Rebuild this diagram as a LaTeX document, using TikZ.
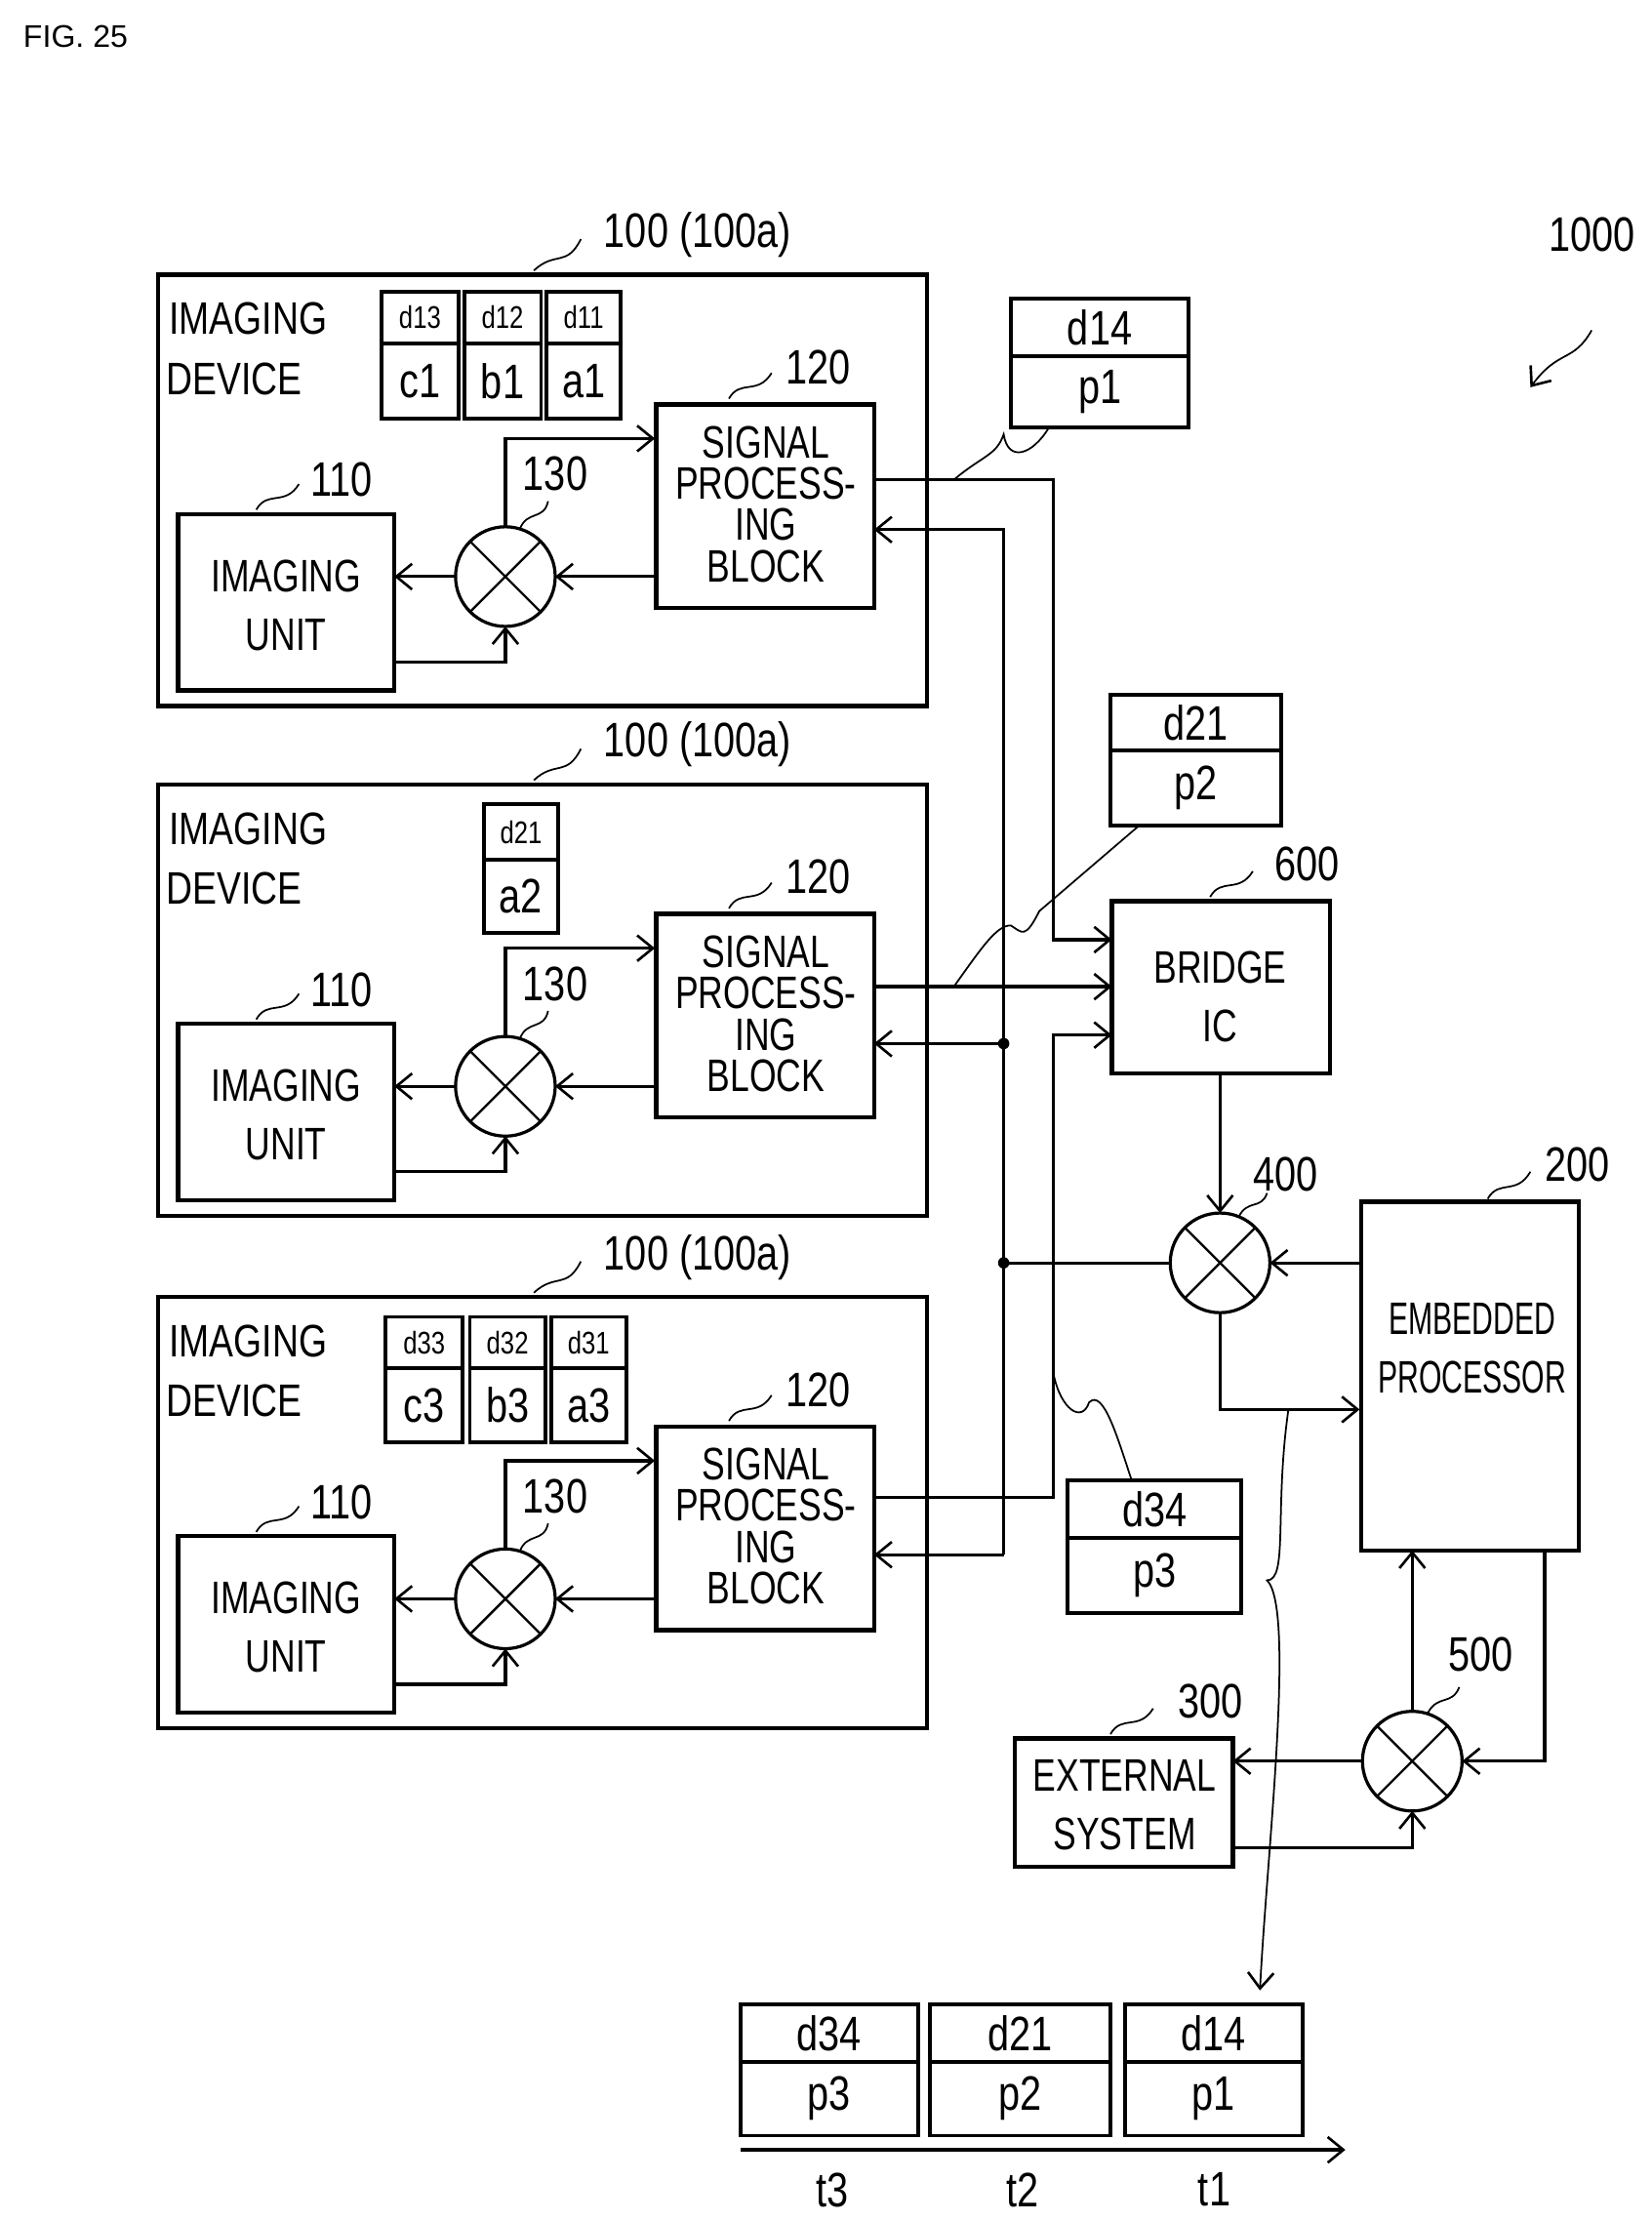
\documentclass[tikz,border=0pt]{standalone}
\usepackage{fontspec}
\setmainfont{Liberation Sans}
\usetikzlibrary{arrows.meta}
\begin{document}
\begin{tikzpicture}[x=1pt,y=-1pt,
  line width=2.2pt,
  ar/.style={-{Straight Barb[length=11pt,width=18pt,line width=1.8pt]}},
  thin/.style={line width=1.2pt},
  big/.style={font=\fontsize{32}{29}\selectfont,xscale=.76,transform shape,align=center,inner sep=0},
  mid/.style={font=\fontsize{32}{30}\selectfont,xscale=.8,transform shape,inner sep=0},
  sm/.style={font=\fontsize{22}{22}\selectfont,xscale=.8,transform shape,inner sep=0},
  num/.style={font=\fontsize{34}{34}\selectfont,xscale=.8,transform shape,inner sep=0},
  box/.style={draw,line width=3pt,inner sep=0,outer sep=0}]
\fill[white] (0,0) rectangle (1160,1560);
\useasboundingbox (0,0) rectangle (1160,1560);
\node[font=\fontsize{22}{22}\selectfont,anchor=west] (fig) at (12,26) {FIG. 25};
\node[num] (n1000) at (1118,165) {1000};
\coordinate (c1000) at (1118,232);
\coordinate (e1000) at (1075,272);
\draw[thin,ar] (c1000) .. controls (1105,255) and (1095,245) .. (e1000);

\foreach \i/\dy in {1/0,2/358,3/718}{
\begin{scope}[yshift=-\dy pt]
 \node[box,minimum width=540pt,minimum height=303pt,anchor=north west] (dev\i) at (111,193) {};
 \node[num] (l100\i) at (490,165) {100 (100a)};
 \draw[thin] (375,190) .. controls (390,176) and (398,188) .. (408,168);
 \node[mid,anchor=west] (id\i) at (118,224) {IMAGING};
 \node[mid,anchor=west] (id2\i) at (116,266) {DEVICE};
 \node[box,minimum width=152pt,minimum height=124pt,anchor=north west] (iu\i) at (125,361) {};
 \node[big] (iut\i) at (201,425) {IMAGING\\[12pt]UNIT};
 \node[num] (l110\i) at (240,337) {110};
 \draw[thin] (180,358) .. controls (188,344) and (200,356) .. (210,340);
 \node[draw,circle,line width=2.2pt,minimum size=70pt,inner sep=0,outer sep=0] (m\i) at (355,405) {};
 \draw[line width=1.6pt] (m\i.45)--(m\i.225) (m\i.135)--(m\i.315);
 \node[num] (l130\i) at (390,333) {130};
 \draw[thin] (365,372) .. controls (370,358) and (382,366) .. (385,352);
 \node[box,minimum width=153pt,minimum height=143pt,anchor=north west] (spb\i) at (461,284) {};
 \node[big] (spbt\i) at (538,354) {SIGNAL\\PROCESS-\\ING\\BLOCK};
 \node[num] (l120\i) at (575,258) {120};
 \draw[thin] (512,280) .. controls (520,266) and (532,278) .. (542,262);
 \draw[ar] (spb\i.west |- m\i) -- (m\i.east);
 \draw[ar] (m\i.west) -- (iu\i.east |- m\i);
 \coordinate (iuo\i) at (278,465);
 \draw[ar] (iuo\i) -| (m\i.south);
 \coordinate (spi\i) at (460,308);
 \draw[ar] (m\i.north) |- (spi\i);
\end{scope}
}
% tiles and packets
\foreach \nm/\xa/\xb/\ya/\ys/\yb/\top/\bot/\fs in {
 t13/268/322/205/241/294/d13/c1/s, t12/326/380/205/241/294/d12/b1/s, t11/384/436/205/241/294/d11/a1/s,
 t21/340/392/565/604/655/d21/a2/s,
 t33/271/325/925/961/1013/d33/c3/s, t32/330/383/925/961/1013/d32/b3/s, t31/387/440/925/961/1013/d31/a3/s,
 pk1/710/835/210/250/300/d14/p1/b, pk2/780/900/488/527/580/d21/p2/b, pk3/750/872/1040/1080/1133/d34/p3/b,
 bp3/520/645/1408/1448/1500/d34/p3/b, bp2/653/780/1408/1448/1500/d21/p2/b, bp1/790/915/1408/1448/1500/d14/p1/b}{
 \draw[line width=2.6pt] (\xa,\ya) rectangle (\xb,\yb) (\xa,\ys) -- (\xb,\ys);
 \if b\fs
 \node[num] (\nm a) at ({(\xa+\xb)/2},{(\ya+\ys)/2}) {\top};
 \else
 \node[sm] (\nm a) at ({(\xa+\xb)/2},{(\ya+\ys)/2}) {\top};
 \fi
 \node[num] (\nm b) at ({(\xa+\xb)/2},{(\ys+\yb)/2}) {\bot};
}
% bridge
\node[box,minimum width=153pt,minimum height=121pt,anchor=north west] (br) at (781,633) {};
\node[big] (brt) at (857,700) {BRIDGE\\[12pt]IC};
\node[num] (l600) at (918,607) {600};
\draw[thin] (850,630) .. controls (858,616) and (870,628) .. (880,612);
% 400
\node[draw,circle,line width=2.2pt,minimum size=70pt,inner sep=0,outer sep=0] (m4) at (857,887) {};
\draw[line width=1.6pt] (m4.45)--(m4.225) (m4.135)--(m4.315);
\node[num] (l400) at (903,825) {400};
\draw[thin] (870,855) .. controls (876,842) and (886,850) .. (890,838);
% processor
\node[box,minimum width=153pt,minimum height=245pt,anchor=north west] (ep) at (956,844) {};
\node[big,xscale=.85] (ept) at (1034,947) {EMBEDDED\\[12pt]PROCESSOR};
\node[num] (l200) at (1108,818) {200};
\draw[thin] (1045,842) .. controls (1053,828) and (1065,840) .. (1075,823);
% 500
\node[draw,circle,line width=2.2pt,minimum size=70pt,inner sep=0,outer sep=0] (m5) at (992,1237) {};
\draw[line width=1.6pt] (m5.45)--(m5.225) (m5.135)--(m5.315);
\node[num] (l500) at (1040,1162) {500};
\draw[thin] (1003,1203) .. controls (1010,1190) and (1020,1198) .. (1025,1185);
% external
\node[box,minimum width=153pt,minimum height=90pt,anchor=north west] (ex) at (713,1221) {};
\node[big] (ext) at (790,1268) {EXTERNAL\\[12pt]SYSTEM};
\node[num] (l300) at (850,1195) {300};
\draw[thin] (780,1218) .. controls (788,1204) and (800,1216) .. (810,1200);
% connections
\coordinate (o1) at (615,337);
\coordinate (o2) at (615,693);
\coordinate (o3) at (615,1052);
\draw[ar] (o1) -- (740,337) |- (br.west |- 0,660);
\draw[ar] (o2) -- (br.west |- o2);
\draw[ar] (o3) -- (740,1052) |- (br.west |- 0,727);
\coordinate (bus) at (705,887);
\draw (m4.west) -- (bus);
\draw[ar] (705,1092) -- (705,372) -- (spb1.east |- 0,372);
\draw[ar] (705,733) -- (spb2.east |- 0,733);
\draw[ar] (705,1092) -- (spb3.east |- 0,1092);
\fill (705,733) circle (4pt) (bus) circle (4pt);
\draw[ar] (br.south -| m4) -- (m4.north);
\draw[ar] (ep.west |- m4) -- (m4.east);
\coordinate (epin) at (955,990);
\draw[ar] (m4.south) |- (epin);
\draw[ar] (ep.south -| 1085,0) -- (1085,1237) -- (m5.east);
\draw[ar] (m5.north) -- (ep.south -| m5);
\draw[ar] (m5.west) -- (ex.east |- m5);
\coordinate (exo) at (867,1298);
\draw[ar] (exo) -| (m5.south);
% packet leaders
\draw[thin] (670,337) .. controls (690,320) and (700,320) .. (705,305) .. controls (708,325) and (725,320) .. (737,300);
\draw[thin] (670,693) .. controls (690,665) and (700,650) .. (710,650) .. controls (718,655) and (720,660) .. (730,640) -- (800,580);
\draw[thin] (740,965) .. controls (745,990) and (760,1000) .. (765,985) .. controls (775,975) and (785,1010) .. (795,1040);
\draw[thin,ar] (905,990) .. controls (895,1060) and (905,1110) .. (890,1110) .. controls (910,1130) and (890,1300) .. (885,1398);
% time axis
\draw[ar] (520,1510) -- (945,1510);
\node[num] (t3) at (585,1538) {t3};
\node[num] (t2) at (718,1538) {t2};
\node[num] (t1) at (853,1538) {t1};
\end{tikzpicture}
\end{document}
